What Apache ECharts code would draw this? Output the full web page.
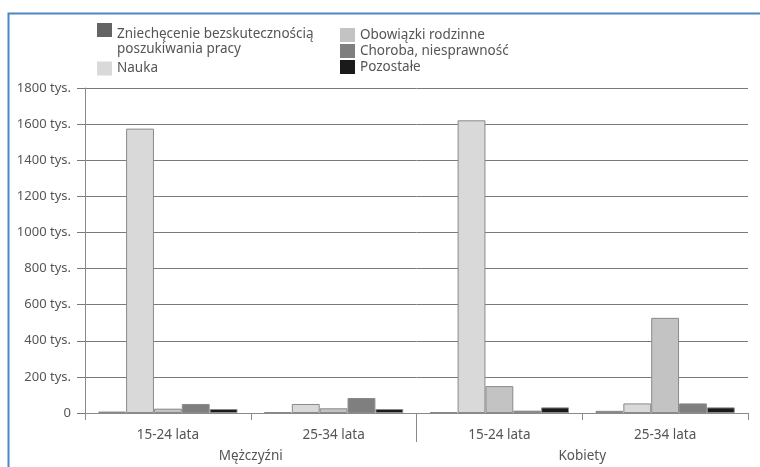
<!DOCTYPE html>
<html>
<head>
<meta charset="utf-8">
<script src="https://cdn.jsdelivr.net/npm/echarts@6/dist/echarts.min.js"></script>
<style>
  html, body { margin: 0; padding: 0; background: #fff; }
  #chart { width: 760px; height: 467px; }
</style>
</head>
<body>
<div id="chart"></div>
<script>
// Age groups within each sex, and the two sex groups
const ageGroups = ['15-24 lata', '25-34 lata', '15-24 lata', '25-34 lata'];
const sexGroups = ['Mężczyźni', 'Kobiety'];

// Reasons for economic inactivity (thousands of people)
const seriesNames = [
  'Zniechęcenie bezskutecznością poszukiwania pracy',
  'Nauka',
  'Obowiązki rodzinne',
  'Choroba, niesprawność',
  'Pozostałe'
];
const discouraged = [8, 5, 5, 12];
const education = [1575, 50, 1621, 53];
const family = [24, 26, 149, 527];
const illness = [50, 83, 13, 53];
const other = [22, 22, 31, 31];

// Y axis range and tick step (thousands)
const yMax = 1800;
const yStep = 200;
const yUnit = ' tys.';

const colors = ['#646464', '#d9d9d9', '#c3c3c3', '#7f7f7f', '#1a1a1a'];
const values = [discouraged, education, family, illness, other];
const textColor = '#555';
const fontFamily = '"Noto Sans", sans-serif';

const chart = echarts.init(document.getElementById('chart'), null, { renderer: 'canvas' });

const legendText = { color: textColor, fontSize: 13.5, fontFamily: fontFamily, lineHeight: 15 };
const legendBase = {
  orient: 'vertical',
  padding: 0,
  itemWidth: 15, itemHeight: 14,
  icon: 'rect',
  itemStyle: { borderWidth: 0 }
};

const option = {
  animation: false,
  color: colors,
  graphic: [{
    type: 'rect',
    left: 6, top: 11,
    shape: { width: 760, height: 470 },
    style: { fill: 'none', stroke: '#4a86c8', lineWidth: 2 },
    silent: true,
    z: -10
  }],
  legend: [
    Object.assign({}, legendBase, {
      data: [seriesNames[0]],
      left: 97, top: 3,
      // long label wraps after the second word; a small spacer line keeps
      // the first text line level with the swatch
      formatter: name => {
        const words = name.split(' ');
        return '{s| }\n{a|' + words.slice(0, 2).join(' ') + '}\n{a|' + words.slice(2).join(' ') + '}';
      },
      textStyle: Object.assign({}, legendText, {
        rich: {
          s: { lineHeight: 24, fontSize: 2 },
          a: { lineHeight: 15, fontSize: 13.5, color: textColor, fontFamily: fontFamily }
        }
      })
    }),
    Object.assign({}, legendBase, {
      data: [seriesNames[1]],
      left: 97, top: 61,
      textStyle: legendText
    }),
    Object.assign({}, legendBase, {
      data: seriesNames.slice(2),
      left: 340, top: 28,
      itemGap: 2,
      textStyle: Object.assign({}, legendText, { lineHeight: 14 })
    })
  ],
  grid: { left: 85, right: 12, top: 88, bottom: 54, containLabel: false },
  xAxis: [
    {
      type: 'category',
      data: ageGroups,
      position: 'bottom',
      axisLine: { lineStyle: { color: '#8a8a8a', width: 1 } },
      axisTick: { show: true, length: 7, lineStyle: { color: '#8a8a8a' } },
      axisLabel: { color: textColor, fontSize: 13.5, fontFamily: fontFamily, margin: 15 }
    },
    {
      type: 'value',
      min: 0, max: sexGroups.length, interval: 1,
      position: 'bottom',
      axisLine: { show: false },
      splitLine: { show: false },
      axisTick: {
        show: true, length: 29, customValues: [1],
        lineStyle: { color: '#8a8a8a' }
      },
      axisLabel: {
        customValues: sexGroups.map((_, i) => i + 0.5),
        formatter: v => sexGroups[Math.floor(v)],
        color: textColor, fontSize: 13.5, fontFamily: fontFamily, margin: 36
      }
    }
  ],
  yAxis: {
    type: 'value',
    min: 0, max: yMax, interval: yStep,
    axisLine: { show: true, lineStyle: { color: '#8a8a8a' } },
    axisTick: { show: true, length: 8, lineStyle: { color: '#7a7a7a' } },
    splitLine: { show: true, lineStyle: { color: '#7a7a7a', width: 1 } },
    axisLabel: {
      formatter: v => v === 0 ? '0' : v + yUnit,
      color: textColor, fontSize: 13, fontFamily: fontFamily, margin: 14
    }
  },
  series: seriesNames.map((name, i) => ({
    name: name,
    type: 'bar',
    xAxisIndex: 0,
    data: values[i],
    barGap: '0%',
    barCategoryGap: '16%',
    itemStyle: { color: colors[i], borderColor: '#8a8a8a', borderWidth: 1 }
  }))
};

chart.setOption(option);
</script>
</body>
</html>
